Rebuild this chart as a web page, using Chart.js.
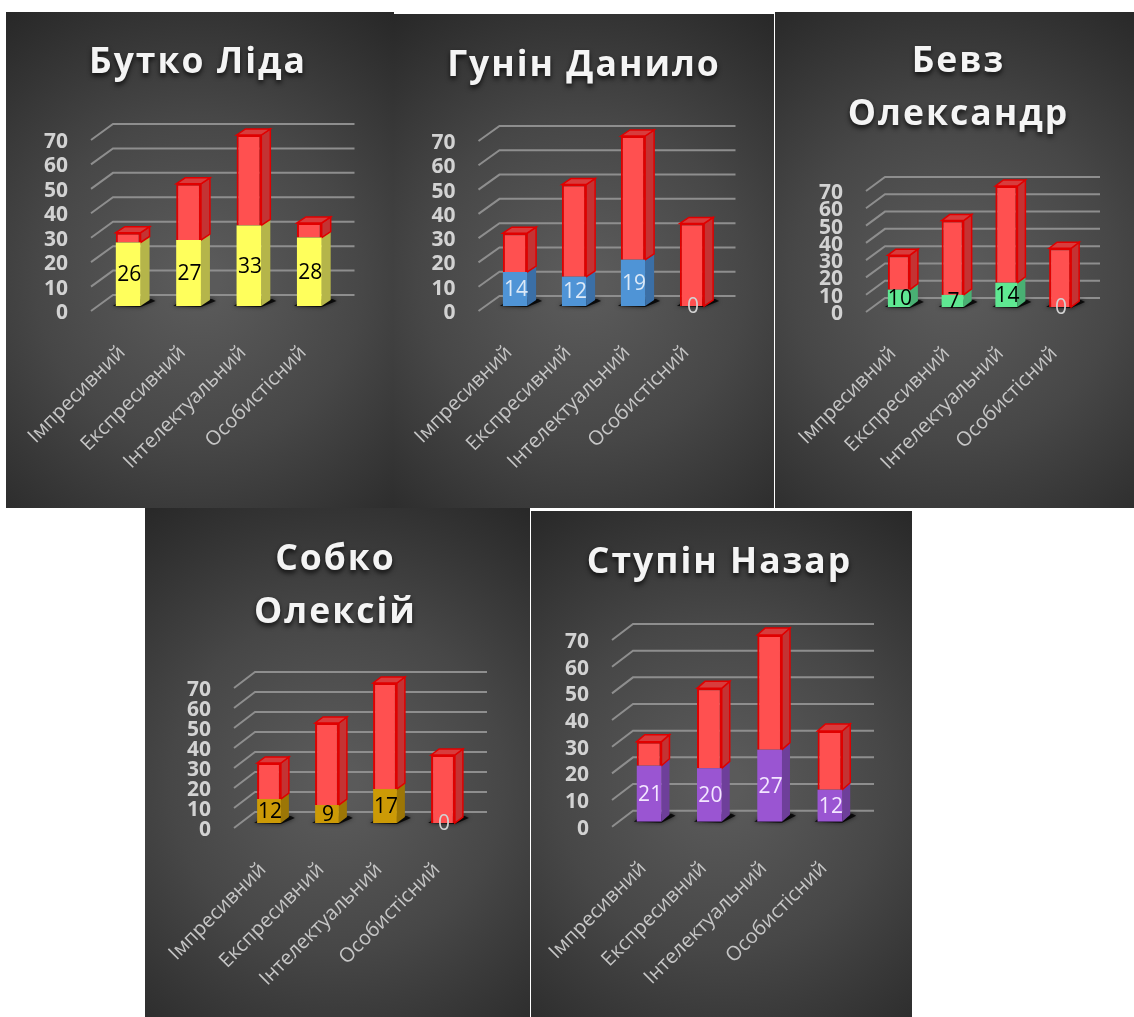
<!DOCTYPE html>
<html lang="uk">
<head>
<meta charset="utf-8">
<title>Типи темпераменту</title>
<script src="https://cdn.jsdelivr.net/npm/chart.js@4"></script>
<style>
  html, body { margin: 0; padding: 0; background: #fff; }
  body { position: relative; width: 1134px; height: 1017px; overflow: hidden; }
  canvas { position: absolute; display: block; }
</style>
</head>
<body>
<script>
// Chart data
const categories = ['Імпресивний', 'Експресивний', 'Інтелектуальний', 'Особистісний'];
const yTicksMax = 70;
const yTicksStep = 10;

const titleButko = ['Бутко Ліда'];
const scoreButko = [26, 27, 33, 28];
const restButko = [4, 23, 37, 6];

const titleHunin = ['Гунін Данило'];
const scoreHunin = [14, 12, 19, 0];
const restHunin = [16, 38, 51, 34];

const titleBevz = ['Бевз', 'Олександр'];
const scoreBevz = [10, 7, 14, 0];
const restBevz = [20, 43, 56, 34];

const titleSobko = ['Собко', 'Олексій'];
const scoreSobko = [12, 9, 17, 0];
const restSobko = [18, 41, 53, 34];

const titleStupin = ['Ступін Назар'];
const scoreStupin = [21, 20, 27, 12];
const restStupin = [9, 30, 43, 22];

// Panel geometry and per-person colours
const panels = [
  { id: 'butko', box: [6, 12, 388, 496], plot: [98, 339.5, 135, 306], titleMid: 63, titleDx: -2, grid: [-7, 5, 15, -11], bar: [9, -6], title: titleButko, score: scoreButko, rest: restButko, fill: '#ffff5c', side: '#b5b54a', text: '#000000' },
  { id: 'hunin', box: [394, 14, 380, 494], plot: [485.5, 721.5, 136, 306], titleMid: 66, titleDx: 0, grid: [-7, 5, 14, -10], bar: [9, -6], title: titleHunin, score: scoreHunin, rest: restHunin, fill: '#4f94d6', side: '#3b6fa6', text: '#dce9f7' },
  { id: 'bevz', box: [775, 12, 359, 496], plot: [872, 1087, 186, 307], titleMid: 62, titleDx: 4, grid: [-6, 5, 13, -9], bar: [8, -6], title: titleBevz, score: scoreBevz, rest: restBevz, fill: '#5fe892', side: '#49b073', text: '#000000' },
  { id: 'sobko', box: [145, 508, 385, 509], plot: [240, 472, 683, 823], titleMid: 560, titleDx: -2, grid: [-6, 5, 15, -11], bar: [8, -6], title: titleSobko, score: scoreSobko, rest: restSobko, fill: '#cc9a06', side: '#9c7606', text: '#000000' },
  { id: 'stupin', box: [531, 511, 381, 506], plot: [619, 860, 635, 821.7], titleMid: 563, titleDx: -2, grid: [-7, 5, 14, -11], bar: [8, -7], title: titleStupin, score: scoreStupin, rest: restStupin, fill: '#9a55d2', side: '#6e3f9a', text: '#f3e6ff' }
];

const RED_FILL = '#ff5050';
const RED_EDGE = '#e00000';
const RED_SIDE = '#c43333';
const RED_TOP = '#d83c3c';
const LIGHT = '#d2d2d2';
const TITLE_LINE = 53;

function polygon(ctx, pts, fill, stroke) {
  ctx.beginPath();
  pts.forEach((p, i) => (i ? ctx.lineTo(p[0], p[1]) : ctx.moveTo(p[0], p[1])));
  ctx.closePath();
  ctx.fillStyle = fill;
  ctx.fill();
  if (stroke) {
    ctx.strokeStyle = stroke;
    ctx.lineWidth = 1.5;
    ctx.stroke();
  }
}

// Dark vignette behind each panel
const backdrop = {
  id: 'backdrop',
  beforeDraw(chart) {
    const { ctx, width, height } = chart;
    const g = ctx.createRadialGradient(width / 2, height * 0.54, 20, width / 2, height * 0.54, height * 0.68);
    g.addColorStop(0, '#5a5a5a');
    g.addColorStop(0.45, '#474747');
    g.addColorStop(1, '#262626');
    ctx.save();
    ctx.fillStyle = g;
    ctx.fillRect(0, 0, width, height);
    ctx.restore();
  }
};

// Title gets a soft shadow and wider tracking
const titleStyle = {
  id: 'titleStyle',
  afterLayout(chart, args, opts) {
    const block = chart.titleBlock;
    if (!block || block.__styled) return;
    const original = block.draw;
    block.draw = function () {
      const ctx = this.ctx;
      ctx.save();
      ctx.translate(opts.dx, 0);
      ctx.letterSpacing = '2px';
      ctx.shadowColor = 'rgba(0,0,0,0.75)';
      ctx.shadowBlur = 5;
      ctx.shadowOffsetY = 3;
      original.call(this);
      ctx.restore();
    };
    block.__styled = true;
  }
};

// Receding gridlines, bar side and top faces, floor shadows
const depth = {
  id: 'depth',
  beforeDatasetsDraw(chart, args, opts) {
    const { ctx, chartArea } = chart;
    const y = chart.scales.y;
    const [fx, fy, bx, by] = opts.grid;
    const [dx, dy] = opts.bar;
    ctx.save();
    ctx.strokeStyle = '#8e8e8e';
    ctx.lineWidth = 2;
    y.ticks.forEach(t => {
      const py = y.getPixelForValue(t.value);
      ctx.beginPath();
      ctx.moveTo(chartArea.left + fx, py + fy);
      ctx.lineTo(chartArea.left + bx, py + by);
      ctx.lineTo(chartArea.right + bx, py + by);
      ctx.stroke();
    });

    const low = chart.getDatasetMeta(0).data;
    const high = chart.getDatasetMeta(1).data;
    low.forEach((el) => {
      const l = el.x - el.width / 2;
      const r = el.x + el.width / 2;
      ctx.save();
      ctx.shadowColor = 'rgba(0,0,0,0.8)';
      ctx.shadowBlur = 4;
      polygon(ctx, [[l - 3, el.base], [r, el.base + 1], [r + dx + 6, el.base + dy + 1], [r + dx + 2, el.base + dy - 1], [l + 6, el.base + dy]], 'rgba(0,0,0,0.8)');
      ctx.restore();
    });
    low.forEach((el, i) => {
      const l = el.x - el.width / 2;
      const r = el.x + el.width / 2;
      if (el.base - el.y > 0.5) {
        polygon(ctx, [[r, el.y], [r + dx, el.y + dy], [r + dx, el.base + dy], [r, el.base]], opts.side);
      }
      const top = high[i];
      polygon(ctx, [[r, top.y], [r + dx, top.y + dy], [r + dx, top.base + dy], [r, top.base]], RED_SIDE, RED_EDGE);
      polygon(ctx, [[l, top.y], [l + dx, top.y + dy], [r + dx, top.y + dy], [r, top.y]], RED_TOP, RED_EDGE);
    });
    ctx.restore();
  },
  // Score labels centred on the lower segment of each bar
  afterDatasetsDraw(chart, args, opts) {
    const { ctx } = chart;
    const values = chart.data.datasets[0].data;
    ctx.save();
    ctx.font = '21px "Open Sans"';
    ctx.textAlign = 'center';
    ctx.textBaseline = 'middle';
    chart.getDatasetMeta(0).data.forEach((el, i) => {
      ctx.fillStyle = values[i] === 0 ? LIGHT : opts.text;
      ctx.fillText(String(values[i]), el.x + 1, (el.y + el.base) / 2 + 1);
    });
    ctx.restore();
  }
};

panels.forEach(p => {
  const [left, top, w, h] = p.box;
  const canvas = document.createElement('canvas');
  canvas.id = p.id;
  canvas.width = w;
  canvas.height = h;
  canvas.style.left = left + 'px';
  canvas.style.top = top + 'px';
  canvas.style.width = w + 'px';
  canvas.style.height = h + 'px';
  document.body.appendChild(canvas);

  const plotLeft = p.plot[0] - left;
  const plotRight = p.plot[1] - left;
  const plotTop = p.plot[2] - top;
  const plotBottom = p.plot[3] - top;
  const titleTop = p.titleMid - top - TITLE_LINE / 2;
  const titleBottom = plotTop - titleTop - p.title.length * TITLE_LINE;

  new Chart(canvas, {
    type: 'bar',
    data: {
      labels: categories,
      datasets: [
        { data: p.score, backgroundColor: p.fill, borderWidth: 0, categoryPercentage: 1, barPercentage: 0.41 },
        { data: p.rest, backgroundColor: RED_FILL, borderColor: RED_EDGE, borderWidth: 2, categoryPercentage: 1, barPercentage: 0.41 }
      ]
    },
    plugins: [backdrop, titleStyle, depth],
    options: {
      responsive: false,
      animation: false,
      layout: { padding: { top: 0, left: 0, bottom: 0, right: w - plotRight } },
      plugins: {
        legend: { display: false },
        tooltip: { enabled: false },
        title: {
          display: true,
          text: p.title,
          color: '#f4f4f4',
          font: { family: '"Open Sans"', size: 35.5, weight: 'bold', lineHeight: TITLE_LINE + 'px' },
          padding: { top: titleTop, bottom: titleBottom }
        },
        titleStyle: { dx: p.titleDx + (w - plotRight) / 2 },
        depth: { grid: p.grid, bar: p.bar, side: p.side, text: p.text }
      },
      scales: {
        x: {
          stacked: true,
          afterFit(scale) {
            scale.height = h - plotBottom;
            scale.paddingLeft = 0;
            scale.paddingRight = 0;
          },
          grid: { display: false },
          border: { display: false },
          ticks: {
            autoSkip: false,
            minRotation: 45,
            maxRotation: 45,
            padding: 27,
            labelOffset: -6,
            color: '#c6c6c6',
            font: { family: '"Open Sans"', size: 20 }
          }
        },
        y: {
          stacked: true,
          min: 0,
          max: yTicksMax,
          afterFit(scale) { scale.width = plotLeft; },
          grid: { display: false },
          border: { display: false },
          ticks: {
            autoSkip: false,
            stepSize: yTicksStep,
            labelOffset: p.grid[1] + 2,
            padding: 15 - p.grid[0],
            color: LIGHT,
            font: { family: '"Open Sans"', size: 21, weight: 'bold' }
          }
        }
      }
    }
  });
});
</script>
</body>
</html>
